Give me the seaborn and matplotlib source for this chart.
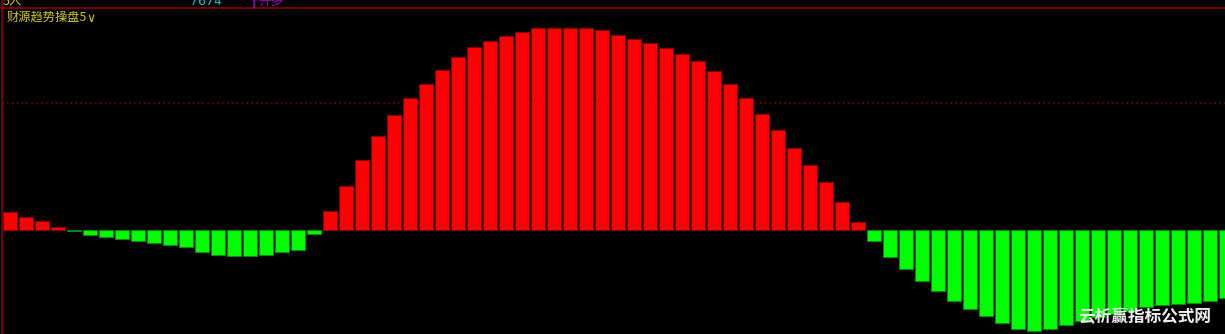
import numpy as np
import pandas as pd
import matplotlib
matplotlib.use("Agg")
import matplotlib.pyplot as plt
import seaborn as sns
from matplotlib.lines import Line2D

# ---- data (bar heights, arbitrary units) ----
values = [18, 13.5, 9, 3.5, -1, -4.5, -7, -8.5, -11, -13,
          -15, -17, -21.5, -24.5, -26, -26, -25, -22, -19.5, -4,
          19, 44.5, 70.5, 94, 115, 132.5, 146.5, 160.5, 173, 183,
          189, 194, 198.5, 202, 202.5, 202.5, 202, 200, 195, 191,
          187, 182.5, 176.5, 169, 159, 146.5, 132, 116.5, 100, 82.5,
          65, 48, 28.5, 8.5, -11, -27, -39, -50.5, -61, -71,
          -78.5, -86, -93, -98.5, -101, -99, -94.5, -91, -87, -84,
          -81, -77, -75, -74, -73, -71, -68]
periods = [str(i) for i in range(len(values))]
ref_level = 127
title_text = "财源趋势操盘5"
header_items = ["5人", "7674", "开多"]
watermark = "云析赢指标公式网"

df = pd.DataFrame({"period": periods, "value": values})
df["dir"] = np.where(df["value"] >= 0, "up", "down")

sns.set_theme(style="dark")
plt.rcParams["font.family"] = ["Noto Sans CJK SC", "DejaVu Sans"]

W, H = 1225, 334
fig = plt.figure(figsize=(W / 100, H / 100), dpi=100, facecolor="black")
ax = fig.add_axes([2 / W, 0, 1 - 2 / W, (H - 8) / H])
ax.set_facecolor("black")

sns.barplot(data=df, x="period", y="value", hue="dir", order=periods,
            palette={"up": "#FF0000", "down": "#00FF00"}, dodge=False,
            saturation=1, width=0.875, legend=False, ax=ax, zorder=3,
            linewidth=0.8)

for p in ax.patches:
    fc = p.get_facecolor()
    p.set_edgecolor((fc[0] * 0.55, fc[1] * 0.55, fc[2] * 0.55, 1))

ax.axhline(ref_level, color="#8a0000", linestyle=(0, (1, 2.2)), lw=1.1, zorder=1)

ax.set_xlim(-0.5, -0.5 + (W - 2) / 16)
ax.set_ylim(-104, 222)
ax.set_xticks([])
ax.set_yticks([])
ax.set_xlabel("")
ax.set_ylabel("")
ax.grid(False)
for s in ax.spines.values():
    s.set_visible(False)

# frame lines
fig.add_artist(Line2D([0, 1], [(H - 8) / H] * 2, transform=fig.transFigure,
                      color="#8a0000", lw=1.2))
fig.add_artist(Line2D([2 / W] * 2, [0, 1], transform=fig.transFigure,
                      color="#8a0000", lw=1.2))
fig.add_artist(Line2D([254 / W] * 2, [(H - 8) / H, 1], transform=fig.transFigure,
                      color="#a000c0", lw=1.2))

# header row (cut at top, as in the reference)
fig.text(3 / W, (H - 5) / H, header_items[0], color="#d8c800", fontsize=9,
         va="baseline", ha="left")
fig.text(190 / W, (H - 5) / H, header_items[1], color="#00c8d8", fontsize=9,
         va="baseline", ha="left", family=["DejaVu Sans"])
fig.text(258 / W, (H - 5) / H, header_items[2], color="#a000c0", fontsize=9,
         va="baseline", ha="left")

# title
fig.text(7 / W, (H - 17) / H, title_text, color="#d4c81a", fontsize=8.8,
         va="center", ha="left")
fig.text(86 / W, (H - 18) / H, "∨", color="#d4c81a", fontsize=9,
         va="center", ha="left", family=["DejaVu Sans"])

# watermark
fig.text(1078 / W, (H - 316.5) / H, watermark, color="#f0f0f0", fontsize=12,
         fontweight="bold", va="center", ha="left")

fig.savefig("out.png", dpi=100, facecolor="black")
